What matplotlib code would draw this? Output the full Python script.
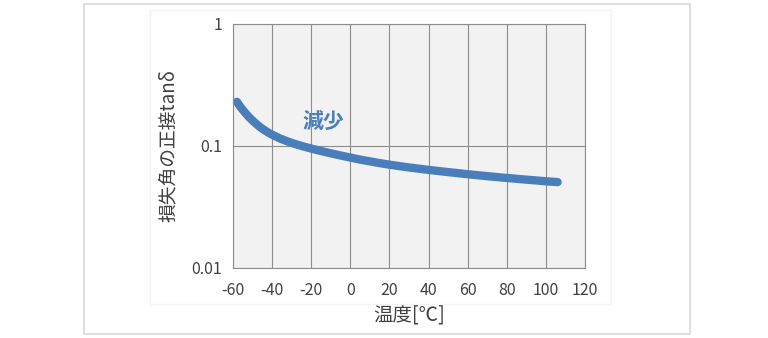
import matplotlib
matplotlib.use('Agg')
from matplotlib import pyplot as plt
from matplotlib.patches import Rectangle

plt.rcParams['font.family'] = ['Noto Sans CJK JP', 'DejaVu Sans']

temp = [-58, -56, -54, -52, -50, -48, -46, -44, -42, -40, -36, -32, -28, -24, -20,
        -15, -10, -5, 0, 5, 10, 15, 20, 25, 30, 40, 50, 60, 70, 80, 90, 100, 106]
tan_delta = [0.2301, 0.2071, 0.1891, 0.1738, 0.1616, 0.1511, 0.1423, 0.1350, 0.1290,
             0.1238, 0.1153, 0.1089, 0.1035, 0.0991, 0.0953, 0.0910, 0.0871, 0.0836,
             0.0804, 0.0774, 0.0748, 0.0724, 0.0703, 0.0684, 0.0667, 0.0637, 0.0611,
             0.0587, 0.0566, 0.0547, 0.0530, 0.0514, 0.0506]
xticks = [-60, -40, -20, 0, 20, 40, 60, 80, 100, 120]
yticks = [0.01, 0.1, 1]
ytick_labels = ['0.01', '0.1', '1']

blue = '#4a7ebb'

fig = plt.figure(figsize=(7.68, 3.38), dpi=100)
W, H = 768, 338

# outer frame and chart-area border
fig.patches.append(Rectangle((84 / W, 4 / H), 606 / W, 330 / H, transform=fig.transFigure,
                             fill=False, edgecolor='#d9d9d9', linewidth=1.2))
fig.patches.append(Rectangle((150 / W, 34 / H), 461 / W, 294 / H, transform=fig.transFigure,
                             fill=False, edgecolor='#f3f3f3', linewidth=1.0))

ax = fig.add_axes([233 / W, 70 / H, 352 / W, 244 / H])
ax.set_facecolor('#f2f2f2')
ax.set_yscale('log')
ax.set_xlim(-60, 120)
ax.set_ylim(0.01, 1)
ax.set_xticks(xticks)
ax.set_xticklabels([str(t) for t in xticks])
ax.set_yticks(yticks)
ax.set_yticklabels(ytick_labels)
ax.minorticks_off()
ax.grid(True, color='#8c8c8c', linewidth=0.8)
ax.set_axisbelow(True)
for s in ax.spines.values():
    s.set_color('#8c8c8c')
    s.set_linewidth(0.8)
ax.tick_params(length=0, labelsize=11.5, colors='#404040', pad=10)
ax.tick_params(axis='y', pad=8)

ax.plot(temp, tan_delta, color=blue, linewidth=6, solid_capstyle='round',
        solid_joinstyle='round', clip_on=False)
ax.text(-14, 0.158, '減少', color=blue, fontsize=15, fontweight='bold', ha='center', va='center')

ax.set_xlabel('温度[℃]', fontsize=14, color='#404040', labelpad=4)
ax.set_ylabel('損失角の正接tanδ', fontsize=13.5, color='#404040', labelpad=9)

fig.savefig('out.png', dpi=100)
